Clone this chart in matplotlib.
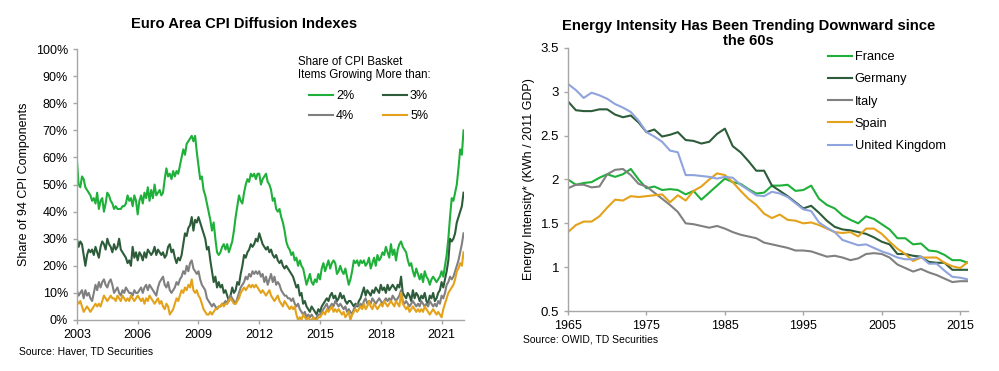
import matplotlib
matplotlib.use("Agg")
import matplotlib.pyplot as plt
import numpy as np

plt.rcParams['font.family'] = ['Liberation Sans', 'DejaVu Sans']

# ---- left panel: euro area CPI diffusion, monthly Jan 2003 - Feb 2022 (%)
start_year = 2003
above_2 = [59, 50, 49, 53, 52, 49, 48, 47, 46, 44, 45, 43,
           47, 41, 44, 45, 40, 43, 47, 46, 44, 43, 41, 42,
           41, 41, 41, 42, 42, 43, 46, 44, 45, 42, 46, 44,
           39, 44, 46, 43, 47, 45, 49, 44, 48, 45, 50, 46,
           47, 48, 46, 47, 52, 56, 53, 54, 52, 55, 53, 55,
           54, 57, 60, 63, 61, 65, 66, 67, 68, 66, 68, 62,
           57, 52, 53, 48, 46, 43, 40, 37, 33, 36, 30, 25,
           24, 25, 27, 28, 26, 28, 25, 27, 29, 33, 38, 42,
           46, 44, 43, 47, 50, 52, 51, 54, 53, 54, 52, 54,
           54, 50, 52, 53, 54, 51, 50, 48, 44, 45, 41, 40,
           41, 38, 36, 33, 29, 27, 26, 24, 25, 22, 23, 20,
           22, 20, 19, 16, 13, 15, 17, 14, 13, 15, 14, 17,
           15, 19, 21, 18, 20, 22, 19, 21, 22, 21, 17, 18,
           20, 18, 17, 19, 16, 13, 15, 18, 22, 21, 22, 20,
           22, 21, 22, 20, 21, 23, 19, 21, 23, 20, 24, 22,
           23, 25, 24, 27, 25, 23, 28, 24, 26, 22, 26, 28,
           29, 27, 26, 25, 22, 20, 21, 18, 16, 19, 17, 15,
           17, 14, 18, 16, 15, 13, 15, 16, 15, 14, 15, 16,
           18, 16, 20, 24, 30, 38, 45, 44, 47, 50, 56, 63,
           61, 70]
above_3 = [30, 27, 29, 28, 24, 20, 24, 26, 25, 26, 24, 27,
           25, 23, 27, 29, 28, 26, 30, 28, 27, 25, 28, 26,
           27, 30, 26, 25, 24, 23, 21, 22, 20, 27, 23, 25,
           22, 25, 24, 22, 25, 23, 26, 25, 24, 25, 27, 24,
           26, 25, 24, 25, 23, 24, 27, 28, 25, 26, 23, 21,
           23, 22, 24, 28, 32, 31, 34, 35, 38, 33, 37, 36,
           38, 36, 34, 32, 30, 26, 27, 22, 18, 14, 16, 12,
           14, 12, 13, 10, 11, 9, 7, 9, 12, 10, 11, 14,
           13, 17, 20, 24, 23, 25, 26, 28, 27, 28, 30, 29,
           32, 30, 28, 27, 26, 27, 25, 26, 24, 23, 24, 22,
           21, 22, 20, 19, 20, 19, 18, 17, 16, 14, 12, 13,
           9, 10, 6, 7, 5, 4, 3, 5, 4, 3, 2, 4,
           3, 5, 6, 7, 8, 7, 9, 10, 8, 9, 7, 8,
           10, 8, 9, 7, 6, 7, 7, 6, 5, 6, 5, 7,
           8, 10, 12, 9, 11, 10, 9, 11, 10, 12, 11, 10,
           13, 11, 12, 10, 13, 11, 12, 13, 12, 11, 13, 12,
           16, 10, 9, 8, 10, 9, 7, 11, 8, 10, 9, 7,
           9, 8, 10, 7, 6, 9, 8, 10, 7, 8, 10, 11,
           14, 12, 15, 18, 22, 30, 29, 30, 32, 36, 38, 40,
           42, 47]
above_4 = [11, 9, 10, 11, 8, 11, 9, 10, 8, 7, 10, 13,
           11, 14, 12, 14, 15, 13, 12, 14, 15, 13, 10, 11,
           12, 10, 9, 11, 10, 12, 11, 10, 10, 9, 11, 10,
           10, 11, 12, 10, 12, 13, 11, 13, 12, 11, 10, 9,
           12, 14, 15, 16, 13, 12, 14, 11, 10, 11, 12, 14,
           13, 15, 16, 18, 17, 20, 18, 21, 22, 19, 18, 17,
           18, 15, 13, 12, 11, 8, 7, 6, 5, 6, 5, 4,
           5, 5, 6, 6, 7, 6, 8, 9, 8, 7, 6, 8,
           10, 12, 13, 14, 16, 15, 17, 16, 18, 17, 18, 17,
           18, 16, 17, 14, 16, 13, 15, 17, 14, 16, 13, 14,
           13, 11, 10, 9, 9, 8, 8, 7, 8, 6, 5, 6,
           4, 3, 2, 3, 1, 2, 1, 2, 1, 0, 1, 2,
           2, 3, 4, 5, 6, 4, 5, 6, 5, 7, 6, 5,
           6, 5, 4, 5, 3, 4, 3, 2, 4, 5, 6, 5,
           6, 5, 7, 8, 6, 7, 6, 8, 7, 6, 7, 8,
           7, 6, 7, 8, 7, 8, 7, 9, 8, 7, 8, 9,
           11, 7, 6, 7, 6, 5, 6, 7, 6, 5, 6, 5,
           7, 6, 5, 6, 5, 7, 6, 5, 6, 5, 7, 6,
           9, 8, 10, 13, 14, 16, 15, 16, 18, 20, 22, 25,
           28, 32]
above_5 = [7, 6, 7, 5, 3, 4, 5, 4, 3, 4, 5, 6,
           5, 6, 5, 7, 9, 8, 7, 8, 9, 8, 8, 7,
           9, 8, 7, 9, 8, 7, 8, 7, 9, 8, 7, 8,
           9, 8, 7, 8, 6, 8, 7, 9, 8, 7, 6, 7,
           8, 6, 7, 5, 4, 6, 5, 2, 3, 4, 6, 8,
           7, 9, 11, 10, 12, 11, 13, 12, 15, 11, 10, 11,
           9, 8, 6, 4, 3, 2, 2, 3, 2, 3, 4, 4,
           5, 5, 6, 5, 6, 6, 7, 8, 7, 6, 6, 7,
           8, 10, 11, 12, 11, 12, 13, 12, 13, 12, 13, 12,
           11, 10, 11, 10, 9, 10, 11, 9, 8, 7, 8, 9,
           7, 6, 5, 7, 6, 5, 4, 5, 4, 5, 2, 0,
           1, 0, 2, 1, 0, 1, 0, 0, 1, 0, 0, 1,
           1, 2, 3, 2, 4, 3, 4, 5, 3, 4, 3, 4,
           3, 2, 3, 1, 2, 3, 0, 2, 3, 4, 3, 4,
           5, 4, 6, 4, 5, 7, 5, 4, 6, 5, 4, 5,
           6, 5, 7, 6, 5, 6, 7, 6, 5, 7, 6, 5,
           10, 6, 5, 4, 5, 3, 4, 5, 4, 3, 4, 3,
           4, 3, 5, 4, 3, 2, 3, 4, 3, 2, 3, 2,
           1, 4, 6, 8, 10, 11, 12, 13, 15, 18, 19, 21,
           20, 25]
diffusion_labels = ['2%', '3%', '4%', '5%']
left_xticks = [2003, 2006, 2009, 2012, 2015, 2018, 2021]

# ---- right panel: energy intensity, annual 1965-2016
years = list(range(1965, 2017))
france = [2.00, 1.94, 1.96, 1.97, 2.02, 2.06, 2.03, 2.06, 2.12, 2.00,
          1.90, 1.92, 1.88, 1.89, 1.88, 1.83, 1.87, 1.77, 1.85, 1.93,
          2.01, 1.97, 1.95, 1.89, 1.84, 1.85, 1.93, 1.93, 1.94, 1.87,
          1.88, 1.93, 1.78, 1.71, 1.67, 1.59, 1.54, 1.50, 1.58, 1.55,
          1.49, 1.43, 1.33, 1.33, 1.26, 1.27, 1.19, 1.18, 1.14, 1.08,
          1.08, 1.05]
germany = [2.89, 2.79, 2.78, 2.78, 2.80, 2.80, 2.74, 2.71, 2.73, 2.65,
           2.54, 2.57, 2.49, 2.51, 2.54, 2.45, 2.44, 2.41, 2.43, 2.52,
           2.58, 2.38, 2.31, 2.21, 2.10, 2.10, 1.93, 1.87, 1.81, 1.74,
           1.67, 1.70, 1.62, 1.53, 1.46, 1.43, 1.42, 1.40, 1.38, 1.34,
           1.29, 1.26, 1.15, 1.15, 1.13, 1.12, 1.06, 1.05, 1.05, 0.97,
           0.97, 0.97]
italy = [1.90, 1.94, 1.94, 1.91, 1.92, 2.06, 2.11, 2.12, 2.05, 1.95,
         1.92, 1.85, 1.78, 1.71, 1.63, 1.50, 1.49, 1.47, 1.45, 1.47,
         1.44, 1.40, 1.37, 1.35, 1.33, 1.28, 1.26, 1.24, 1.22, 1.19,
         1.19, 1.18, 1.15, 1.12, 1.13, 1.11, 1.08, 1.10, 1.15, 1.16,
         1.15, 1.11, 1.03, 0.99, 0.95, 0.98, 0.94, 0.91, 0.87, 0.83,
         0.84, 0.84]
spain = [1.40, 1.48, 1.52, 1.52, 1.58, 1.68, 1.77, 1.76, 1.81, 1.80,
         1.81, 1.82, 1.83, 1.74, 1.82, 1.76, 1.87, 1.92, 2.00, 2.07,
         2.05, 1.97, 1.87, 1.78, 1.71, 1.61, 1.56, 1.60, 1.54, 1.53,
         1.50, 1.51, 1.48, 1.44, 1.40, 1.39, 1.40, 1.35, 1.44, 1.44,
         1.38, 1.29, 1.21, 1.15, 1.07, 1.11, 1.11, 1.11, 1.05, 1.01,
         0.99, 1.06]
uk = [3.09, 3.02, 2.93, 2.99, 2.96, 2.92, 2.86, 2.82, 2.77, 2.67,
      2.54, 2.49, 2.43, 2.33, 2.31, 2.05, 2.05, 2.04, 2.03, 2.01,
      2.03, 2.02, 1.94, 1.88, 1.82, 1.81, 1.86, 1.84, 1.80, 1.73,
      1.66, 1.64, 1.51, 1.45, 1.40, 1.31, 1.28, 1.25, 1.26, 1.22,
      1.18, 1.15, 1.11, 1.09, 1.09, 1.12, 1.04, 1.04, 0.96, 0.89,
      0.88, 0.86]
countries = ['France', 'Germany', 'Italy', 'Spain', 'United Kingdom']

green = '#1fb03a'
dkgreen = '#2d5c3a'
grey = '#808080'
gold = '#e3a21a'
blue = '#8fa3dc'
spine_col = '#a6a6a6'

fig = plt.figure(figsize=(9.99, 3.71), dpi=100)


def style_axes(ax):
    for s in ['top', 'right']:
        ax.spines[s].set_visible(False)
    for s in ['left', 'bottom']:
        ax.spines[s].set_color(spine_col)
        ax.spines[s].set_linewidth(1.0)
    ax.tick_params(axis='both', colors=spine_col, labelcolor='black',
                   labelsize=9, length=3, width=1.0)


# left
ax1 = fig.add_axes([0.077, 0.1375, 0.387, 0.73])
n = len(above_2)
x_m = start_year + np.arange(n) / 12.0
lines1 = []
for vals, col, lab in zip([above_2, above_3, above_4, above_5],
                          [green, dkgreen, grey, gold], diffusion_labels):
    ln, = ax1.plot(x_m, vals, color=col, lw=1.5, label=lab)
    lines1.append(ln)
ax1.set_xlim(start_year, x_m[-1])
ax1.set_ylim(0, 100)
ax1.set_yticks(range(0, 101, 10))
ax1.set_yticklabels([f'{v}%' for v in range(0, 101, 10)])
ax1.set_xticks(left_xticks)
style_axes(ax1)
ax1.set_ylabel('Share of 94 CPI Components', fontsize=9, labelpad=4)
# column-wise fill -> rows read 2%,3% / 4%,5%
order = [0, 2, 1, 3]
ax1.legend([lines1[i] for i in order], [diffusion_labels[i] for i in order],
           ncol=2, frameon=False, fontsize=9,
           handlelength=1.9, handletextpad=0.25, columnspacing=2.3,
           labelspacing=0.66, loc='upper left', borderpad=0,
           borderaxespad=0, bbox_to_anchor=(0.601, 0.849))
fig.text(0.298, 0.8154, 'Share of CPI Basket\nItems Growing More than:',
         fontsize=8.3, va='center', ha='left', linespacing=1.15)
fig.text(0.244, 0.935, 'Euro Area CPI Diffusion Indexes', ha='center',
         va='center', fontsize=10.6, fontweight='bold')
fig.text(0.019, 0.053, 'Source: Haver, TD Securities', fontsize=7.5,
         va='center')

# right
ax2 = fig.add_axes([0.5686, 0.1617, 0.4004, 0.709])
for vals, col, lab in zip([france, germany, italy, spain, uk],
                          [green, dkgreen, grey, gold, blue], countries):
    ax2.plot(years, vals, color=col, lw=1.5, label=lab)
ax2.set_xlim(1965, 2016)
ax2.set_ylim(0.5, 3.5)
ax2.set_yticks([0.5, 1, 1.5, 2, 2.5, 3, 3.5])
ax2.set_yticklabels(['0.5', '1', '1.5', '2', '2.5', '3', '3.5'])
ax2.set_xticks(range(1965, 2016, 10))
style_axes(ax2)
ax2.tick_params(axis='y', labelsize=9.5)
ax2.set_ylabel('Energy Intensity* (KWh / 2011 GDP)', fontsize=9,
               labelpad=4)
ax2.legend(frameon=False, fontsize=9.2, handlelength=1.9,
           handletextpad=0.2, labelspacing=0.8, loc='upper left',
           borderpad=0, borderaxespad=0, bbox_to_anchor=(0.65, 0.9875))
fig.text(0.749, 0.91, 'Energy Intensity Has Been Trending Downward since\nthe 60s',
         ha='center', va='center', fontsize=10.6, fontweight='bold',
         linespacing=1.05)
fig.text(0.524, 0.086, 'Source: OWID, TD Securities', fontsize=7.5,
         va='center')

fig.savefig('out.png', dpi=100)
